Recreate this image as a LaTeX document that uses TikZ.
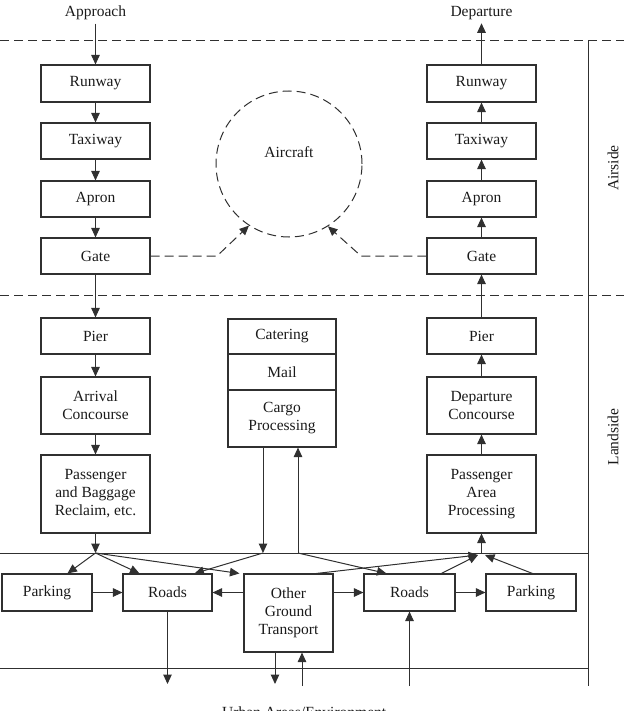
\documentclass[tikz,border=0pt]{standalone}
\usepackage{fontspec}
\setmainfont{Liberation Serif}
\usetikzlibrary{arrows.meta}
\definecolor{ln}{HTML}{303030}
\definecolor{txt}{HTML}{1A1A1A}
\begin{document}
\begin{tikzpicture}[x=1pt,y=-1pt,
 every node/.style={font=\fontsize{15.5}{18}\selectfont,text=txt},
 box/.style={draw=ln,line width=1.1pt,inner sep=0pt,align=center,minimum width=109,minimum height=36},
 tip/.style={-{Triangle[length=9.5pt,width=8.5pt]}},
 conn/.style={draw=ln,line width=1pt,tip},
 plain/.style={draw=ln,line width=1pt},
 dsh/.style={draw=ln,line width=1pt,dash pattern=on 9pt off 5pt},
]
\useasboundingbox (0,0) rectangle (624,711);

% zone lines
\draw[dsh] (0,41) -- (624,41);
\draw[dsh] (0,295) -- (624,295);
\draw[plain] (588,41) -- (588,686);
\draw[plain] (0,553) -- (588,553);
\draw[plain] (0,668) -- (588,668);
\node[rotate=90] (airside) at (613,168) {Airside};
\node[rotate=90] (landside) at (613,437) {Landside};

% top labels
\node (app) at (95.5,13) {Approach};
\node (dep) at (481.5,13) {Departure};

% left column
\node[box,minimum height=37] (rwL) at (95.5,83.5) {Runway};
\node[box] (txL) at (95.5,141) {Taxiway};
\node[box] (apL) at (95.5,199) {Apron};
\node[box] (gtL) at (95.5,256) {Gate};
\node[box] (prL) at (95.5,336) {Pier};
\node[box,minimum height=57] (acL) at (95.5,405.5) {Arrival\\Concourse};
\node[box,minimum height=78] (rcL) at (95.5,494) {Passenger\\and Baggage\\Reclaim, etc.};

% right column
\node[box,minimum height=37] (rwR) at (481.5,83.5) {Runway};
\node[box] (txR) at (481.5,141) {Taxiway};
\node[box] (apR) at (481.5,199) {Apron};
\node[box] (gtR) at (481.5,256) {Gate};
\node[box] (prR) at (481.5,336) {Pier};
\node[box,minimum height=57] (dcR) at (481.5,405.5) {Departure\\Concourse};
\node[box,minimum height=78] (paR) at (481.5,494) {Passenger\\Area\\Processing};

% centre stack
\node[box,minimum width=108,minimum height=35] (cat) at (282,336.5) {Catering};
\node[box,minimum width=108,minimum height=36] (mail) at (282,372) {Mail};
\node[box,minimum width=108,minimum height=57] (cargo) at (282,418.5) {Cargo\\Processing};

% aircraft
\node[draw=ln,line width=1pt,dash pattern=on 9pt off 5pt,circle,minimum size=146,inner sep=0pt] (ac) at (289,164) {};
\node (aclabel) at (289,152) {Aircraft};

% bottom row
\node[box,minimum width=90,minimum height=37] (pkL) at (47,592.5) {Parking};
\node[box,minimum width=89,minimum height=37] (rdL) at (167.5,592.5) {Roads};
\node[box,minimum width=89,minimum height=78] (ogt) at (288.5,613) {Other\\Ground\\Transport};
\node[box,minimum width=91,minimum height=37] (rdR) at (409.5,592.5) {Roads};
\node[box,minimum width=90,minimum height=37] (pkR) at (531,592.5) {Parking};

% bottom label (cut by the page edge, as in the original)
\node[anchor=base west,inner sep=0pt] (urban) at (222,717) {Urban Areas/Environment};

% coordinates
\coordinate (fL) at (95.5,553);
\coordinate (fC) at (263,553);
\coordinate (fX) at (298,553);
\coordinate (fR) at (481.5,553);
\coordinate (fR1) at (478,555);
\coordinate (fR2) at (485,555);
\coordinate (kL) at (217,256);
\coordinate (kR) at (361,256);
\coordinate (bL) at (167.5,684);
\coordinate (bO) at (275,684);
\coordinate (uO) at (302,686);
\coordinate (uR) at (409.5,686);

% left flow
\draw[conn] (app) -- (rwL);
\draw[conn] (rwL) -- (txL);
\draw[conn] (txL) -- (apL);
\draw[conn] (apL) -- (gtL);
\draw[conn] (gtL) -- (prL);
\draw[conn] (prL) -- (acL);
\draw[conn] (acL) -- (rcL);
\draw[conn] (rcL) -- (fL);

% right flow
\draw[conn] (fR) -- (paR);
\draw[conn] (paR) -- (dcR);
\draw[conn] (dcR) -- (prR);
\draw[conn] (prR) -- (gtR);
\draw[conn] (gtR) -- (apR);
\draw[conn] (apR) -- (txR);
\draw[conn] (txR) -- (rwR);
\draw[conn] (rwR) -- (dep);

% aircraft links
\draw[dsh,tip] (gtL.east) -- (kL) -- (ac.237);
\draw[dsh,tip] (gtR.west) -- (kR) -- (ac.302);

% cargo links
\draw[conn] ([xshift=-19pt]cargo.south) -- (fC);
\draw[conn] (fX) -- ([xshift=16pt]cargo.south);

% fan lines
\draw[conn] (fL) -- ([xshift=66pt]pkL.north west);
\draw[conn] (fL) -- ([xshift=17pt]rdL.north west);
\draw[conn] (fL) -- ([xshift=-4pt]ogt.north west);
\draw[conn] (fC) -- ([xshift=72pt]rdL.north west);
\draw[conn] (fX) -- ([xshift=23pt]rdR.north west);
\draw[conn] ([xshift=73pt]ogt.north west) -- (fR1);
\draw[conn] ([xshift=78pt]rdR.north west) -- (fR1);
\draw[conn] ([xshift=47pt]pkR.north west) -- (fR2);

% horizontal links
\draw[conn] (pkL) -- (rdL);
\draw[conn] (ogt.west |- rdL.east) -- (rdL.east);
\draw[conn] (ogt.east |- rdR.west) -- (rdR.west);
\draw[conn] (rdR) -- (pkR);

% links to urban areas
\draw[conn] (rdL.south) -- (bL);
\draw[conn] ([xshift=-13.5pt]ogt.south) -- (bO);
\draw[conn] (uO) -- ([xshift=13.5pt]ogt.south);
\draw[conn] (uR) -- (rdR.south);
\end{tikzpicture}
\end{document}
